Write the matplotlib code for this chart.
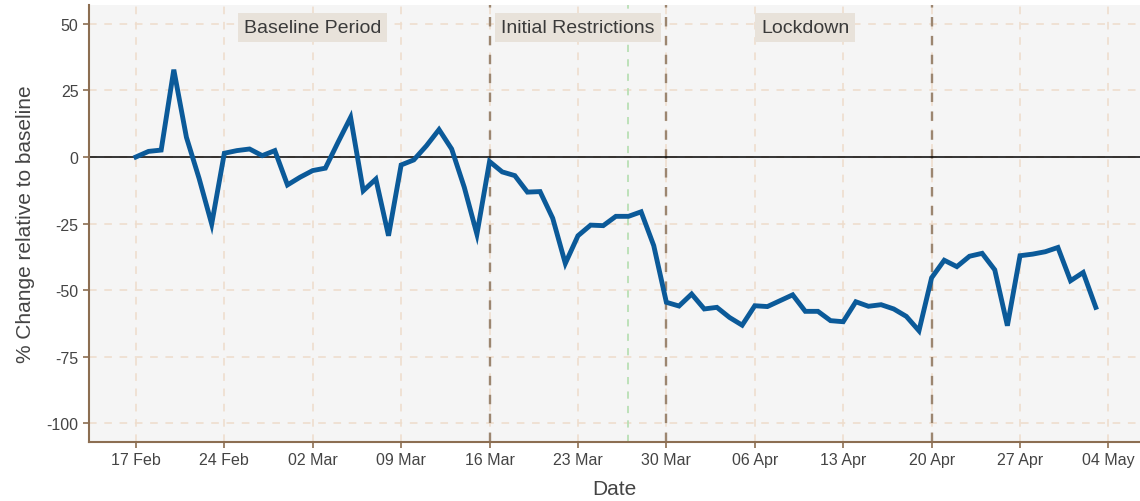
import numpy as np
import pandas as pd
import matplotlib
matplotlib.use("Agg")
import matplotlib.pyplot as plt
import matplotlib.dates as mdates

plt.rcParams['font.family'] = ['Liberation Sans', 'DejaVu Sans']
plt.rcParams['axes.unicode_minus'] = False

# daily % change relative to baseline, 17 Feb - 03 May 2020
start_date = "2020-02-17"
pct_change = [
    0.0, 2.1, 2.6, 32.8, 7.4, -8.0, -25.2, 1.4, 2.4, 3.0,
    0.5, 2.4, -10.5, -7.6, -5.1, -4.2, 5.5, 14.9, -12.7, -8.3,
    -29.6, -3.0, -1.1, 4.2, 10.3, 3.0, -11.4, -29.0, -1.7, -5.6,
    -7.0, -13.2, -13.0, -23.0, -40.0, -29.6, -25.6, -25.8, -22.3, -22.3,
    -20.6, -33.3, -54.6, -56.0, -51.5, -57.1, -56.5, -60.3, -63.2, -55.9,
    -56.2, -54.0, -51.8, -58.0, -58.0, -61.5, -61.9, -54.4, -56.1, -55.5,
    -57.1, -59.9, -65.3, -45.4, -38.8, -41.2, -37.3, -36.2, -42.4, -63.4,
    -37.1, -36.5, -35.6, -34.0, -46.5, -43.4, -56.5,
]

phase_dates = ["2020-03-16", "2020-03-30", "2020-04-20"]
extra_date = "2020-03-27"
phase_labels = ["Baseline Period", "Initial Restrictions", "Lockdown"]
phase_label_dates = ["2020-03-02", "2020-03-23", "2020-04-10"]
y_ticks = [50, 25, 0, -25, -50, -75, -100]

dates = pd.date_range(start_date, periods=len(pct_change), freq="D")

brown = "#8c6e52"
grid_col = "#eedccb"

fig = plt.figure(figsize=(11.4, 5.02), dpi=100)
ax = fig.add_axes([0.078, 0.1175, 0.922, 0.8705])
fig.patch.set_facecolor("white")
ax.set_facecolor("#f5f5f5")

x_ticks = pd.date_range("2020-02-17", "2020-05-04", freq="7D")
ax.set_xticks(x_ticks)
ax.xaxis.set_major_formatter(mdates.DateFormatter("%d %b"))
ax.set_yticks(y_ticks)
ax.set_xlim(pd.Timestamp("2020-02-17") - pd.Timedelta(days=3.72),
            pd.Timestamp("2020-02-17") + pd.Timedelta(days=79.5))
ax.set_ylim(-107.1, 57.1)

ax.grid(True, linestyle=(0, (5, 5)), color=grid_col, linewidth=1.1, zorder=0)
ax.set_axisbelow(True)

for d in phase_dates:
    ax.axvline(pd.Timestamp(d), color="#9c8670", linestyle=(0, (4, 4)), linewidth=1.7, zorder=1)
ax.axvline(pd.Timestamp(extra_date), color="#b9dfb4", linestyle=(0, (4, 4)), linewidth=1.3, zorder=1)

ax.axhline(0, color="black", linewidth=1.1, zorder=2)
ax.plot(dates, pct_change, color="#0b5a99", linewidth=3.5, solid_joinstyle="miter", zorder=3)

for lab, d in zip(phase_labels, phase_label_dates):
    ax.text(pd.Timestamp(d), 48.6, lab, ha="center", va="center", fontsize=14,
            color="#3a3a3a",
            bbox=dict(boxstyle="square,pad=0.3", facecolor="#e8e2da", edgecolor="none"),
            zorder=4)

for s in ["top", "right"]:
    ax.spines[s].set_visible(False)
for s in ["left", "bottom"]:
    ax.spines[s].set_color(brown)
    ax.spines[s].set_linewidth(1.5)
ax.tick_params(axis="both", colors=brown, length=4, width=1.2, labelsize=11.5,
               labelcolor="#444444")

ax.set_xlabel("Date", fontsize=15, color="#444444", labelpad=8)
ax.set_ylabel("% Change relative to baseline", fontsize=15, color="#444444", labelpad=8)

fig.savefig("out.png", dpi=100)
